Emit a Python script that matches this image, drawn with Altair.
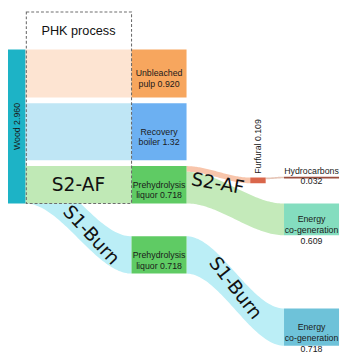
import altair as alt
import numpy as np
import pandas as pd

# ---------------- data ----------------
node_ids = ["wood", "pulp", "recovery", "liq_af", "liq_burn", "furfural",
            "energy_af", "energy_burn", "hydrocarbons"]
node_labels = ["Wood 2.960", "Unbleached\npulp 0.920", "Recovery\nboiler 1.32",
               "Prehydrolysis\nliquor 0.718", "Prehydrolysis\nliquor 0.718",
               "Furfural 0.109", "Energy\nco-generation\n0.609",
               "Energy\nco-generation\n0.718", "Hydrocarbons\n0.032"]
node_values = [2.960, 0.920, 1.32, 0.718, 0.718, 0.109, 0.609, 0.718, 0.032]
node_colors = ["#1db3c6", "#f7a65e", "#6cb0f2", "#5fcb64", "#5fcb64",
               "#d9664b", "#84ddbf", "#6ec2d9", "#9a4e3e"]

link_sources = ["wood", "wood", "wood", "wood", "liq_af", "liq_af", "furfural", "liq_burn"]
link_targets = ["pulp", "recovery", "liq_af", "liq_burn", "furfural", "energy_af",
                "hydrocarbons", "energy_burn"]
link_values = [0.920, 1.32, 0.718, 0.718, 0.109, 0.609, 0.032, 0.718]
link_scenarios = ["", "", "S2-AF", "S1-Burn", "S2-AF", "S2-AF", "S2-AF", "S1-Burn"]
link_colors = ["#fde4d2", "#bfe6f5", "#c0e9b6", "#bbeef6", "#f8c5ab", "#c4eaba",
               "#e6c6b8", "#bbeef6"]

box_title = "PHK process"

# ---------------- layout (reference pixel space) ----------------
K = 54.0            # px per unit of flow
TOP = 41.0
GAP = 6.0
column = {"wood": 0, "pulp": 1, "recovery": 1, "liq_af": 1, "liq_burn": 1,
          "furfural": 2, "energy_af": 3, "energy_burn": 3, "hydrocarbons": 3}
col_left = [2.0, 130.0, 253.0, 288.0]
col_width = [18.0, 57.0, 16.0, 57.0]
manual_top = {"liq_burn": 235.0, "furfural": 174.0, "energy_af": 201.0,
              "energy_burn": 310.0, "hydrocarbons": 173.0}

val = dict(zip(node_ids, node_values))
y0 = {}
y1 = {}
y0["wood"] = TOP
y1["wood"] = TOP + val["wood"] * K
main = ["pulp", "recovery", "liq_af"]
heights = {n: val[n] * K for n in main}
largest = max(main, key=lambda n: val[n])
heights[largest] = (y1["wood"] - y0["wood"]) - GAP * (len(main) - 1) - sum(
    heights[n] for n in main if n != largest)
cur = TOP
for n in main:
    y0[n] = cur
    y1[n] = cur + heights[n]
    cur = y1[n] + GAP
for n, t in manual_top.items():
    y0[n] = t
    y1[n] = t + max(val[n] * K, 2.0)

nodes = pd.DataFrame({
    "id": node_ids,
    "label": node_labels,
    "color": node_colors,
    "x0": [col_left[column[n]] for n in node_ids],
    "x1": [col_left[column[n]] + col_width[column[n]] for n in node_ids],
    "y0": [y0[n] for n in node_ids],
    "y1": [y1[n] for n in node_ids],
})
nodes["xc"] = (nodes.x0 + nodes.x1) / 2
nodes["yc"] = (nodes.y0 + nodes.y1) / 2

out_cursor = {n: y0[n] for n in node_ids}
in_cursor = {n: y0[n] for n in node_ids}
links = []
for i, (s, t, v, sc) in enumerate(zip(link_sources, link_targets, link_values, link_scenarios)):
    w = v * K
    if s == "wood":
        ref = "liq_af" if sc == "S1-Burn" else t
        sy0, sy1 = y0[ref], y1[ref]
        ty0, ty1 = y0[t], y1[t]
    else:
        sy0 = out_cursor[s]
        sy1 = sy0 + w
        out_cursor[s] = sy1
        ty0 = in_cursor[t]
        ty1 = ty0 + w
        in_cursor[t] = ty1
    links.append((i, s, t, sy0, sy1, ty0, ty1))

rows = []
geom = {}
for (i, s, t, sy0, sy1, ty0, ty1) in links:
    xa = col_left[column[s]] + col_width[column[s]]
    xb = col_left[column[t]]
    geom[i] = (xa, xb, sy0, sy1, ty0, ty1)
    for u in np.linspace(0, 1, 60):
        f = 3 * u ** 2 - 2 * u ** 3
        rows.append({"link": f"L{i}", "x": xa + (xb - xa) * u,
                     "top": sy0 + (ty0 - sy0) * f,
                     "bot": sy1 + (ty1 - sy1) * f,
                     "color": link_colors[i],
                     "under": bool(link_scenarios[i] == "S1-Burn" and s == "wood")})
link_df = pd.DataFrame(rows)

flow_place = [(2, 0.5, 0.0, 0), (3, 0.62, 3.0, 47), (5, 0.32, -12.0, 10), (7, 0.5, -3.0, 52)]
fl = []
for (li, u, dy, ang) in flow_place:
    xa, xb, sy0, sy1, ty0, ty1 = geom[li]
    f = 3 * u ** 2 - 2 * u ** 3
    yc = ((sy0 + sy1) / 2) + ((ty0 + ty1) / 2 - (sy0 + sy1) / 2) * f
    fl.append({"x": xa + (xb - xa) * u, "y": yc + dy, "text": link_scenarios[li],
               "angle": ang})
flow_df = pd.DataFrame(fl)

box_df = pd.DataFrame([{"x0": col_left[0] + col_width[0] + 1, "x1": col_left[1],
                        "y0": 2.0, "y1": y1["liq_af"], "title": box_title,
                        "tx": (col_left[0] + col_width[0] + col_left[1]) / 2,
                        "ty": (2.0 + TOP) / 2}])

# ---------------- chart ----------------
W, H = 340, 344
xs = alt.Scale(domain=[2, 346], nice=False, zero=False)
ys = alt.Scale(domain=[2, 351], nice=False, zero=False, reverse=True)

def X(f):
    return alt.X(f, type="quantitative", scale=xs, axis=None)

def Y(f):
    return alt.Y(f, type="quantitative", scale=ys, axis=None)

base_links = alt.Chart(link_df)
under = base_links.transform_filter("datum.under").mark_area(interpolate="linear").encode(
    x=X("x"), y=Y("top"), y2="bot", detail="link:N", color=alt.Color("color:N", scale=None))
over = base_links.transform_filter("!datum.under").mark_area(interpolate="linear").encode(
    x=X("x"), y=Y("top"), y2="bot", detail="link:N", color=alt.Color("color:N", scale=None))

node_layer = alt.Chart(nodes).mark_rect().encode(
    x=X("x0"), x2="x1", y=Y("y0"), y2="y1", color=alt.Color("color:N", scale=None))

box = alt.Chart(box_df).mark_rect(fillOpacity=0, stroke="#6e6e6e", strokeWidth=1.1,
                                  strokeDash=[3, 2]).encode(
    x=X("x0"), x2="x1", y=Y("y0"), y2="y1")
box_text = alt.Chart(box_df).mark_text(font="Liberation Sans", fontSize=13, color="#111").encode(
    x=X("tx"), y=Y("ty"), text="title:N")

FONT = "Liberation Sans"
FS = 9
LH = 11
center_ids = ["pulp", "recovery", "liq_af", "liq_burn", "energy_af", "energy_burn"]
lab_center = alt.Chart(nodes[nodes.id.isin(center_ids)]).mark_text(
    font=FONT, fontSize=FS, lineBreak="\n", lineHeight=LH, color="#1a1a1a").encode(
    x=X("xc"), y=Y("yc"), text="label:N")
lab_wood = alt.Chart(nodes[nodes.id == "wood"]).mark_text(
    font=FONT, fontSize=FS, angle=270, color="#1a1a1a").encode(
    x=X("xc"), y=Y("yc"), text="label:N")
furf = nodes[nodes.id == "furfural"].copy()
furf["ly"] = furf.y0 - 4
lab_furf = alt.Chart(furf).mark_text(
    font=FONT, fontSize=FS, angle=270, align="left", baseline="middle", color="#1a1a1a").encode(
    x=X("xc"), y=Y("ly"), text="label:N")
hyd = nodes[nodes.id == "hydrocarbons"].copy()
hyd["ly"] = hyd.y0 - 1
lab_hyd = alt.Chart(hyd).mark_text(
    font=FONT, fontSize=FS, lineBreak="\n", lineHeight=LH, baseline="bottom",
    color="#1a1a1a").encode(x=X("xc"), y=Y("ly"), text="label:N")

flow_text = alt.Chart(flow_df).mark_text(font="DejaVu Sans", fontSize=19, color="#111").encode(
    x=X("x"), y=Y("y"), text="text:N", angle=alt.Angle("angle:Q", scale=None))

chart = alt.layer(under, over, node_layer, box, box_text, lab_center, lab_wood, lab_furf,
                  lab_hyd, flow_text).properties(
    width=W, height=H, padding=0, autosize="none", background="white"
).configure_view(stroke=None)

chart.save("out.html", embed_options={"renderer": "svg", "actions": False})
